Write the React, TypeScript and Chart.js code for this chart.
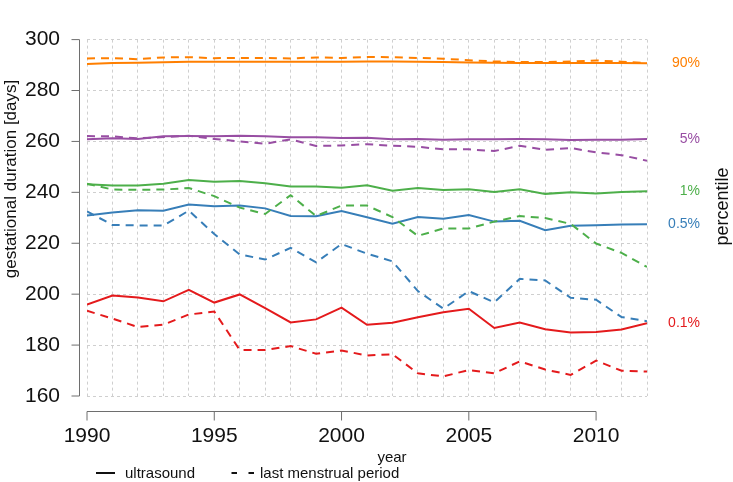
import React, { useEffect, useRef } from "react";
import { Chart, registerables } from "chart.js";

Chart.register(...registerables);

const years = [1990, 1991, 1992, 1993, 1994, 1995, 1996, 1997, 1998, 1999, 2000, 2001, 2002, 2003, 2004, 2005, 2006, 2007, 2008, 2009, 2010, 2011, 2012];

const percentileLabels = ["90%", "5%", "1%", "0.5%", "0.1%"];
const percentileColors = ["#FF7F00", "#984EA3", "#4DAF4A", "#377EB8", "#E41A1C"];

// ultrasound (solid)
const us90 = [290.4, 290.8, 290.9, 291.1, 291.3, 291.3, 291.3, 291.3, 291.3, 291.3, 291.3, 291.4, 291.4, 291.3, 291.2, 291.0, 290.9, 290.8, 290.8, 290.8, 290.8, 290.8, 290.7];
const us5 = [260.9, 261.2, 261.0, 262.0, 262.1, 262.0, 262.2, 262.0, 261.6, 261.6, 261.3, 261.4, 260.9, 261.0, 260.7, 260.9, 260.9, 261.0, 260.9, 260.6, 260.7, 260.7, 261.0];
const us1 = [243.2, 242.7, 242.7, 243.4, 244.8, 244.2, 244.5, 243.6, 242.3, 242.3, 241.8, 242.8, 240.6, 241.7, 240.9, 241.2, 240.1, 241.2, 239.4, 240.0, 239.5, 240.1, 240.4];
const us05 = [230.9, 232.1, 233.0, 232.8, 235.2, 234.5, 234.8, 233.7, 230.7, 230.6, 232.7, 230.2, 227.7, 230.3, 229.6, 231.1, 228.5, 228.8, 225.1, 226.9, 227.1, 227.4, 227.5];
const us01 = [195.9, 199.5, 198.7, 197.2, 201.7, 196.7, 199.9, 194.5, 188.9, 190.1, 194.7, 188.0, 188.8, 190.9, 192.9, 194.3, 186.7, 188.9, 186.2, 184.9, 185.1, 186.1, 188.6];

// last menstrual period (dashed)
const lmp90 = [292.6, 292.7, 292.3, 293.0, 293.1, 292.7, 292.8, 292.8, 292.6, 293.0, 292.8, 293.2, 293.1, 292.8, 292.5, 291.9, 291.4, 291.2, 291.2, 291.4, 291.8, 291.3, 290.8];
const lmp5 = [262.1, 262.0, 261.2, 261.7, 262.2, 261.0, 260.0, 259.1, 260.8, 258.2, 258.4, 258.9, 258.3, 257.9, 256.9, 256.9, 256.2, 258.3, 256.7, 257.4, 255.7, 254.6, 252.4];
const lmp1 = [243.4, 241.1, 241.0, 241.1, 241.7, 238.5, 234.0, 231.5, 238.9, 230.7, 234.8, 234.8, 230.3, 222.9, 225.8, 225.8, 228.5, 230.7, 229.9, 227.6, 219.9, 216.2, 210.7];
const lmp05 = [232.5, 227.2, 227.0, 227.0, 232.8, 223.6, 215.6, 213.6, 218.2, 212.5, 219.7, 215.9, 212.9, 201.2, 194.3, 201.2, 196.8, 206.0, 205.4, 198.6, 197.8, 191.0, 189.4];
const lmp01 = [193.5, 190.4, 187.1, 188.0, 192.0, 193.2, 178.1, 178.1, 179.6, 176.6, 177.9, 175.9, 176.4, 168.9, 167.7, 170.2, 168.9, 173.6, 170.4, 168.3, 173.9, 169.9, 169.6];

const usSeries = [us90, us5, us1, us05, us01];
const lmpSeries = [lmp90, lmp5, lmp1, lmp05, lmp01];

const yTicks = [160, 180, 200, 220, 240, 260, 280, 300];
const xTickLabels = [1990, 1995, 2000, 2005, 2010];

const yTitle = "gestational duration [days]";
const xTitle = "year";
const rightTitle = "percentile";
const legendSolid = "ultrasound";
const legendDashed = "last menstrual period";

const FONT = "'Liberation Sans', Arial, sans-serif";

const toPoints = (vals: number[]) => vals.map((v, i) => ({ x: years[i], y: v }));

const decorPlugin = {
  id: "decor",
  afterDraw(chart: any) {
    const { ctx, chartArea } = chart;
    const x = chart.scales.x;
    const y = chart.scales.y;
    ctx.save();
    // R-style y axis
    ctx.strokeStyle = "#6e6e6e";
    ctx.lineWidth = 1;
    ctx.setLineDash([]);
    const ax = chartArea.left - 7.5;
    ctx.beginPath();
    ctx.moveTo(ax, y.getPixelForValue(yTicks[0]));
    ctx.lineTo(ax, y.getPixelForValue(yTicks[yTicks.length - 1]));
    for (const t of yTicks) {
      const py = y.getPixelForValue(t);
      ctx.moveTo(ax - 8, py);
      ctx.lineTo(ax, py);
    }
    ctx.stroke();
    // R-style x axis
    const ay = chartArea.bottom + 15.5;
    ctx.beginPath();
    ctx.moveTo(x.getPixelForValue(xTickLabels[0]), ay);
    ctx.lineTo(x.getPixelForValue(xTickLabels[xTickLabels.length - 1]), ay);
    for (const t of xTickLabels) {
      const px = x.getPixelForValue(t);
      ctx.moveTo(px, ay);
      ctx.lineTo(px, ay + 9);
    }
    ctx.stroke();

    // y title
    ctx.fillStyle = "#111";
    ctx.font = `17px ${FONT}`;
    ctx.textAlign = "center";
    ctx.textBaseline = "alphabetic";
    ctx.save();
    ctx.translate(16, 179);
    ctx.rotate(-Math.PI / 2);
    ctx.fillText(yTitle, 0, 0);
    ctx.restore();

    // x title
    ctx.font = `15px ${FONT}`;
    ctx.fillText(xTitle, 392, 462);

    // right title
    ctx.save();
    ctx.font = `18px ${FONT}`;
    ctx.translate(728, 206.5);
    ctx.rotate(-Math.PI / 2);
    ctx.fillText(rightTitle, 0, 0);
    ctx.restore();

    // percentile labels at last ultrasound value
    ctx.font = `14px ${FONT}`;
    ctx.textAlign = "right";
    ctx.textBaseline = "middle";
    percentileLabels.forEach((lab, i) => {
      const s = usSeries[i];
      ctx.fillStyle = percentileColors[i];
      ctx.fillText(lab, 700, y.getPixelForValue(s[s.length - 1]));
    });

    // legend
    ctx.strokeStyle = "#111";
    ctx.lineWidth = 2;
    ctx.beginPath();
    ctx.moveTo(96, 473);
    ctx.lineTo(115, 473);
    ctx.stroke();
    ctx.beginPath();
    ctx.moveTo(231.5, 473);
    ctx.lineTo(237, 473);
    ctx.moveTo(248.5, 473);
    ctx.lineTo(254, 473);
    ctx.stroke();
    ctx.fillStyle = "#111";
    ctx.font = `15px ${FONT}`;
    ctx.textAlign = "left";
    ctx.textBaseline = "alphabetic";
    ctx.fillText(legendSolid, 125, 478);
    ctx.fillText(legendDashed, 260, 478);
    ctx.restore();
  },
};

export default function App() {
  const ref = useRef<HTMLCanvasElement | null>(null);
  useEffect(() => {
    if (!ref.current) return;
    const datasets: any[] = [];
    usSeries.forEach((s, i) => {
      datasets.push({
        label: `${legendSolid} ${percentileLabels[i]}`,
        data: toPoints(s),
        borderColor: percentileColors[i],
        borderWidth: 2,
        pointRadius: 0,
        tension: 0,
        fill: false,
      });
      datasets.push({
        label: `${legendDashed} ${percentileLabels[i]}`,
        data: toPoints(lmpSeries[i]),
        borderColor: percentileColors[i],
        borderWidth: 2,
        borderDash: [8, 6],
        pointRadius: 0,
        tension: 0,
        fill: false,
      });
    });
    const chart = new Chart(ref.current, {
      type: "line",
      data: { datasets },
      options: {
        animation: false,
        responsive: false,
        events: [],
        layout: { padding: { left: 0, right: 86, top: 16, bottom: 0 } },
        plugins: { legend: { display: false }, tooltip: { enabled: false }, title: { display: false } },
        scales: {
          x: {
            type: "linear",
            min: years[0],
            max: years[years.length - 1],
            afterFit: (s: any) => { s.height = 86; },
            afterBuildTicks: (s: any) => { s.ticks = years.map((v) => ({ value: v })); },
            ticks: {
              autoSkip: false,
              maxRotation: 0,
              padding: 28,
              color: "#111",
              font: { family: FONT, size: 21 },
              callback: (v: any) => (xTickLabels.includes(Number(v)) ? String(v) : ""),
            },
            grid: { color: "#cfcfcf", lineWidth: 1, drawTicks: false },
            border: { display: false, dash: [3, 3] },
          },
          y: {
            type: "linear",
            min: yTicks[0],
            max: yTicks[yTicks.length - 1],
            afterFit: (s: any) => { s.width = 87; },
            afterBuildTicks: (s: any) => { s.ticks = yTicks.map((v) => ({ value: v })); },
            ticks: {
              padding: 27,
              color: "#111",
              font: { family: FONT, size: 21 },
              callback: (v: any) => String(v),
            },
            grid: { color: "#cfcfcf", lineWidth: 1, drawTicks: false },
            border: { display: false, dash: [3, 3] },
          },
        },
      },
      plugins: [decorPlugin],
    });
    return () => chart.destroy();
  }, []);
  return (
    <div style={{ position: "fixed", left: 0, top: 0, width: 733, height: 482, background: "#fff" }}>
      <canvas ref={ref} width={733} height={482} style={{ display: "block", width: 733, height: 482 }} />
    </div>
  );
}
